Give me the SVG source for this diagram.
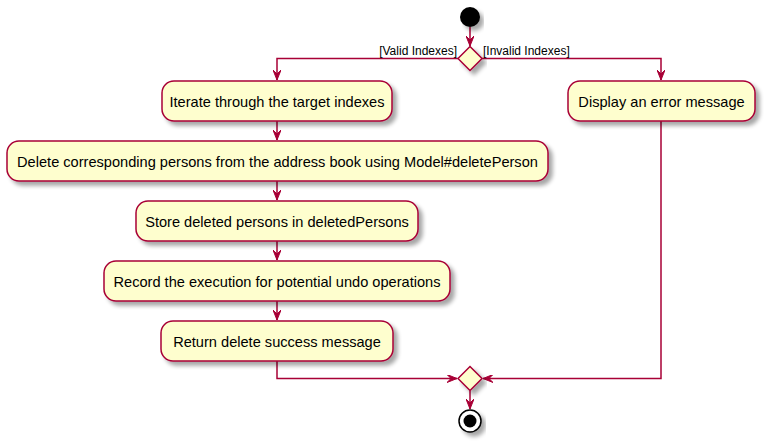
<svg xmlns="http://www.w3.org/2000/svg" width="770" height="447" viewBox="0 0 770 447">
<defs>
<filter id="sh" x="-10%" y="-20%" width="130%" height="160%">
<feGaussianBlur in="SourceAlpha" stdDeviation="2"/>
<feOffset dx="4" dy="4" result="b"/>
<feComponentTransfer><feFuncA type="linear" slope="0.35"/></feComponentTransfer>
<feMerge><feMergeNode/><feMergeNode in="SourceGraphic"/></feMerge>
</filter>
<marker id="ah" viewBox="0 0 10 8" refX="10" refY="4" markerWidth="10" markerHeight="8" orient="auto" markerUnits="userSpaceOnUse">
<path d="M0,0 L10,4 L0,8 L4,4 Z" fill="#A80036" stroke="#A80036" stroke-width="1"/>
</marker>
</defs>
<style>
.box{fill:#FEFECE;stroke:#A80036;stroke-width:1.5}
.t{font-family:"Liberation Sans",Arial,sans-serif;font-size:14.6px;fill:#000;text-anchor:middle}
.g{font-family:"Liberation Sans",Arial,sans-serif;font-size:12px;fill:#000}
.c{fill:none;stroke:#A80036;stroke-width:1.5}
</style>
<rect width="770" height="447" fill="#fff"/>
<g id="connectors">
<line class="c" x1="470" y1="27" x2="470" y2="46" marker-end="url(#ah)"/>
<polyline class="c" points="458,58.5 277,58.5 277,80" marker-end="url(#ah)"/>
<polyline class="c" points="482,58.5 661,58.5 661,80" marker-end="url(#ah)"/>
<line class="c" x1="277" y1="121" x2="277" y2="140" marker-end="url(#ah)"/>
<line class="c" x1="277" y1="181" x2="277" y2="200" marker-end="url(#ah)"/>
<line class="c" x1="277" y1="241" x2="277" y2="260" marker-end="url(#ah)"/>
<line class="c" x1="277" y1="301" x2="277" y2="320" marker-end="url(#ah)"/>
<polyline class="c" points="277,361 277,378.5 457,378.5" marker-end="url(#ah)"/>
<polyline class="c" points="661,121 661,378.5 483,378.5" marker-end="url(#ah)"/>
<line class="c" x1="470" y1="390.5" x2="470" y2="409" marker-end="url(#ah)"/>
<text class="g" x="457" y="55" text-anchor="end">[Valid Indexes]</text>
<text class="g" x="483" y="55">[Invalid Indexes]</text>
</g>
<g id="start"><circle cx="470" cy="17" r="10" fill="#000" filter="url(#sh)"/></g>
<g id="split"><polygon class="box" points="470,46.5 482,58.5 470,70.5 458,58.5" filter="url(#sh)"/></g>
<g id="n1"><rect class="box" x="162" y="81" width="230" height="40" rx="12" filter="url(#sh)"/><text class="t" x="277" y="107">Iterate through the target indexes</text></g>
<g id="n2"><rect class="box" x="7" y="141" width="541" height="40" rx="12" filter="url(#sh)"/><text class="t" x="277.5" y="167">Delete corresponding persons from the address book using Model#deletePerson</text></g>
<g id="n3"><rect class="box" x="136" y="201" width="282" height="40" rx="12" filter="url(#sh)"/><text class="t" x="277" y="227">Store deleted persons in deletedPersons</text></g>
<g id="n4"><rect class="box" x="104" y="261" width="346" height="40" rx="12" filter="url(#sh)"/><text class="t" x="277" y="287">Record the execution for potential undo operations</text></g>
<g id="n5"><rect class="box" x="161" y="321" width="232" height="40" rx="12" filter="url(#sh)"/><text class="t" x="277" y="347">Return delete success message</text></g>
<g id="n6"><rect class="box" x="568" y="81" width="187" height="40" rx="12" filter="url(#sh)"/><text class="t" x="661.5" y="107">Display an error message</text></g>
<g id="merge"><polygon class="box" points="470,366.5 482,378.5 470,390.5 458,378.5" filter="url(#sh)"/></g>
<g id="end"><circle cx="470" cy="421" r="11" fill="#fff" stroke="#000" stroke-width="1.5" filter="url(#sh)"/><circle cx="470" cy="421" r="6.5" fill="#000"/></g>
</svg>
